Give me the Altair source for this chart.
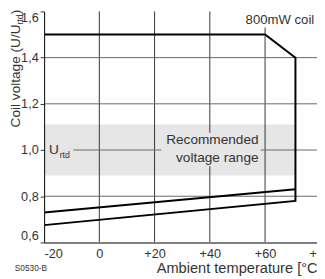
import altair as alt
import pandas as pd

# ---- data ----
outline_temp = [-20, 60, 71, 71, -20]
outline_volt = [1.5, 1.5, 1.4, 0.78, 0.675]
inner_temp = [-20, 71]
inner_volt = [0.73, 0.83]

x_ticks = [-20, 0, 20, 40, 60]
x_grid = [0, 20, 40, 60]
y_ticks = [0.6, 0.8, 1.0, 1.2, 1.4, 1.6]
y_grid = [0.8, 1.0, 1.2, 1.4]

x_domain = [-20, 78.8]
y_domain = [0.6, 1.6]

band_box = [-20, 71, 0.89, 1.11]           # recommended voltage range
rec_box = [22.4, 58.4, 0.93, 1.075]        # label background
urtd_box = [-20, -9.4, 0.95, 1.05]
coil_box = [52.7, 77.8, 1.53, 1.6]

rec_lines = ["Recommended", "voltage range"]
rec_x = [57.65, 57.65]
rec_y = [1.043, 0.963]

W, H = 280, 237
FONT = "Liberation Sans"
TXT = "#333333"

# ---- tables ----
lines_df = pd.DataFrame({
    "x": outline_temp + inner_temp,
    "y": outline_volt + inner_volt,
    "s": ["outline"] * len(outline_temp) + ["inner"] * len(inner_temp),
    "o": list(range(len(outline_temp))) + list(range(len(inner_temp))),
})


def box_df(b):
    return pd.DataFrame({"x": [b[0]], "x2": [b[1]], "y": [b[2]], "y2": [b[3]]})


xscale = alt.Scale(domain=x_domain, nice=False, zero=False)
yscale = alt.Scale(domain=y_domain, nice=False, zero=False)

xaxis = alt.Axis(
    values=x_ticks, grid=False, ticks=False, labelFlush=True, labelPadding=5,
    labelExpr="datum.value > 0 ? '+' + datum.value : '' + datum.value",
    labelFont=FONT, labelFontSize=13,
    domainColor="#808080", domainWidth=2, zindex=1,
    titleAnchor="start", titleAlign="left", titleX=115, titleY=31,
    titleBaseline="alphabetic", titleFontSize=15, titleFontWeight="normal",
    titleColor=TXT, titleFont=FONT,
)
yaxis = alt.Axis(
    values=y_ticks, grid=False, tickSize=4, tickColor="#333333",
    labelFlush=True, labelPadding=2,
    labelFont=FONT, labelFontSize=13,
    labelExpr="replace(format(datum.value, '.1f'), '.', ',')",
    domainColor="#222222", domainWidth=1.2, zindex=1,
)


def X(field="x"):
    return alt.X(f"{field}:Q", scale=xscale, axis=xaxis, title="Ambient temperature [°C]")


def Y(field="y"):
    return alt.Y(f"{field}:Q", scale=yscale, axis=yaxis, title=None)


def rect(b, color):
    return alt.Chart(box_df(b)).mark_rect(color=color).encode(
        x=X(), x2="x2", y=Y(), y2="y2")


band = rect(band_box, "#e6e6e6")

vgrid = alt.Chart(pd.DataFrame({"x": x_grid})).mark_rule(
    color="#333333", strokeWidth=1).encode(x=X())
hgrid = alt.Chart(pd.DataFrame({"y": y_grid})).mark_rule(
    color="#666666", strokeWidth=1).encode(y=Y())

bg1 = rect(rec_box, "#e6e6e6")
bg2 = rect(urtd_box, "#e6e6e6")
bg3 = rect(coil_box, "#ffffff")

rec_text = alt.Chart(pd.DataFrame({"x": rec_x, "y": rec_y, "t": rec_lines})).mark_text(
    align="right", baseline="middle", font=FONT, fontSize=14, color=TXT
).encode(x=X(), y=Y(), text="t:N")

coil_text = alt.Chart(pd.DataFrame({"x": [77.8], "y": [1.562], "t": ["800mW coil"]})).mark_text(
    align="right", baseline="middle", font=FONT, fontSize=13.5, color=TXT
).encode(x=X(), y=Y(), text="t:N")

u_text = alt.Chart(pd.DataFrame({"x": [-20], "y": [1.0], "t": ["U"]})).mark_text(
    align="left", baseline="middle", dx=5, font=FONT, fontSize=14, color=TXT
).encode(x=X(), y=Y(), text="t:N")
rtd_text = alt.Chart(pd.DataFrame({"x": [-20], "y": [1.0], "t": ["rtd"]})).mark_text(
    align="left", baseline="alphabetic", dx=16, dy=8, font=FONT, fontSize=9, color=TXT
).encode(x=X(), y=Y(), text="t:N")

plus80 = alt.Chart(pd.DataFrame({"x": [80], "y": [0.6], "t": ["+80"]})).mark_text(
    align="center", baseline="top", dy=6, font=FONT, fontSize=13, color=TXT, clip=False
).encode(x=X(), y=Y(), text="t:N")

curves = alt.Chart(lines_df).mark_line(color="black", strokeWidth=2).encode(
    x=X(), y=Y(), detail="s:N", order="o:Q")


def label(t, px, py, size, angle=0, align="left", baseline="alphabetic"):
    kw = dict(align=align, baseline=baseline, font=FONT, fontSize=size, color=TXT)
    if angle:
        kw["angle"] = angle
    return alt.Chart(pd.DataFrame({"t": [t]})).mark_text(**kw).encode(
        x=alt.value(px), y=alt.value(py), text="t:N")


ytitle_main = label("Coil voltage (U/U", -25, 119, 14, angle=270)
ytitle_sub = label("rtd", -22, 13.4, 9, angle=270)
ytitle_end = label(")", -25, 2.9, 14, angle=270)
code_text = label("S0530-B", -30, 263, 8.5, baseline="middle")

chart = alt.layer(
    band, vgrid, hgrid, bg1, bg2, bg3,
    rec_text, coil_text, u_text, rtd_text, plus80,
    curves, ytitle_main, ytitle_sub, ytitle_end, code_text,
).properties(
    width=W, height=H,
    autosize=alt.AutoSizeParams(type="none"),
    padding={"left": 37, "top": 0, "right": 0, "bottom": 34},
).configure_view(stroke=None).configure_axis(
    labelColor=TXT,
)

chart.save("out.html", embed_options={"renderer": "svg", "actions": False})
